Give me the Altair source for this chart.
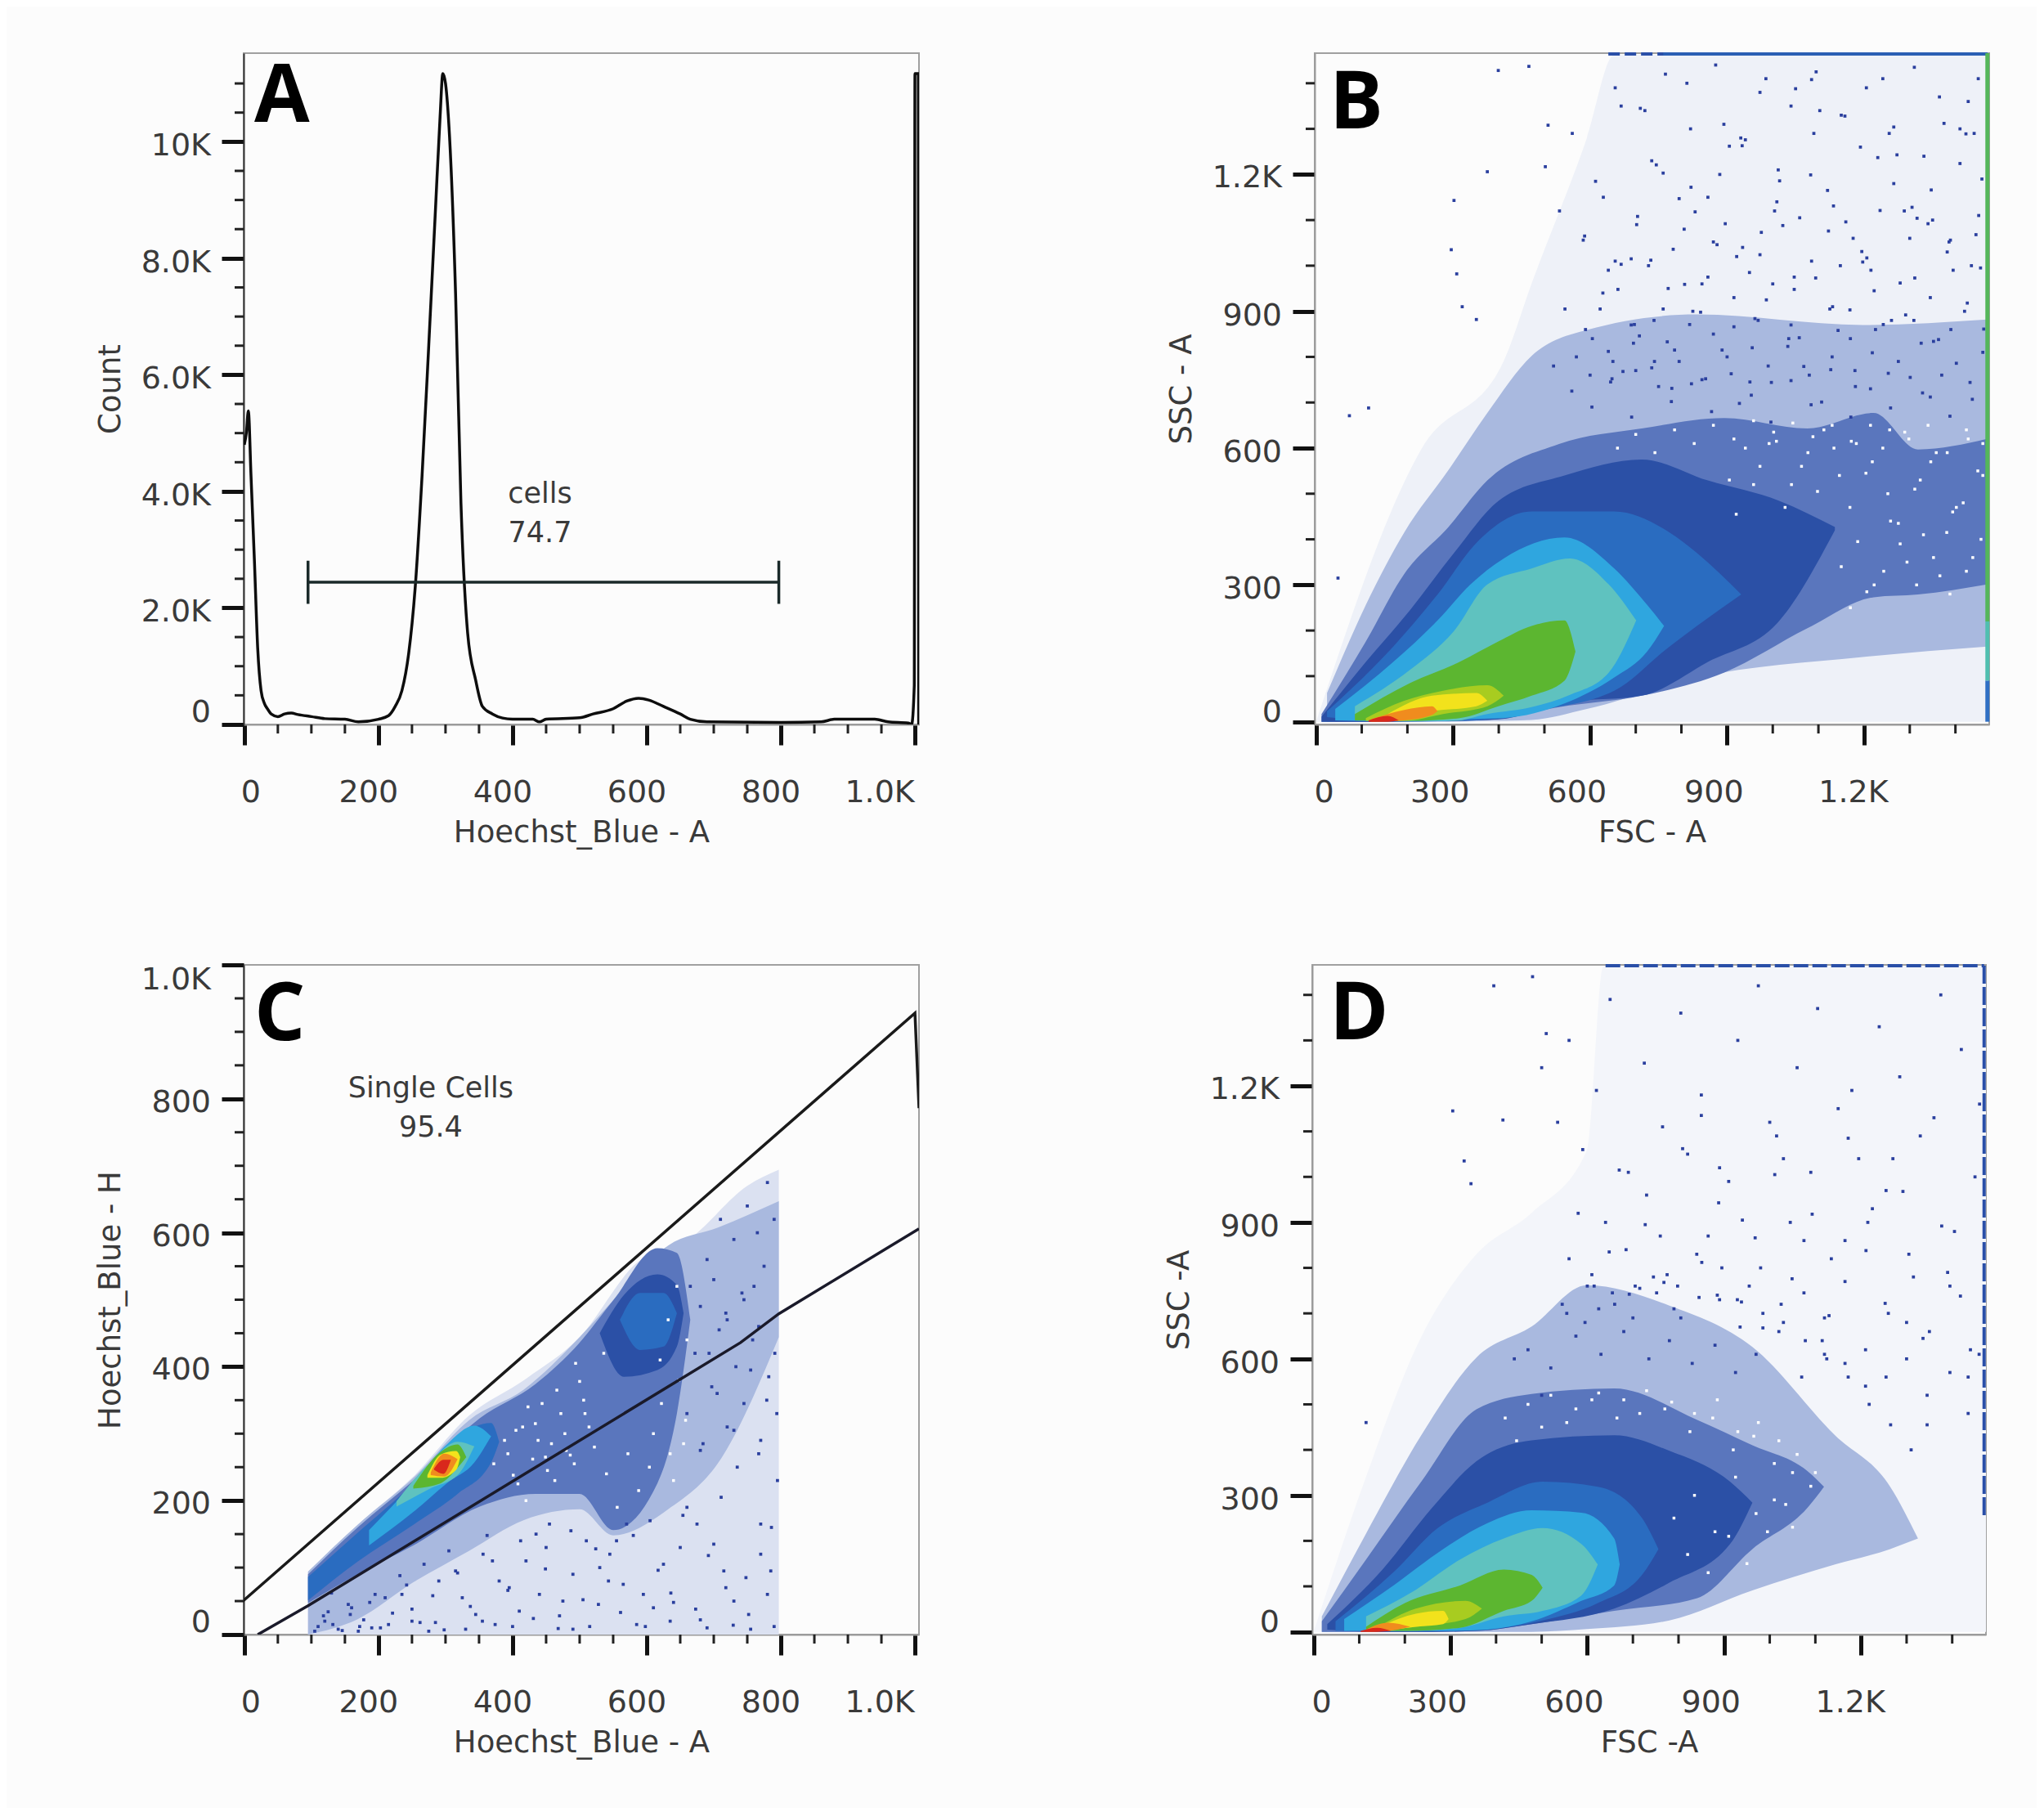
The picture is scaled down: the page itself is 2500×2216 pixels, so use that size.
import altair as alt
import pandas as pd

FONT = "DejaVu Sans"
INK = "#3a3a3a"
PAGE = "#fcfcfc"
DOT = "#2a3f9e"

# ---------- Panel A histogram ----------
HIST_X = [0,3,6,10,15,20,25,30,35,40,50,60,70,80,100,120,150,170,200,215,225,235,245,255,265,275,285,292,296,300,306,315,323,333,345,355,370,385,400,430,440,450,500,520,550,570,588,603,625,650,665,690,800,860,880,940,960,990,995,999,1000,1005,1005.5]
HIST_Y = [4800,5000,5380,4260,2830,1300,580,360,260,180,135,180,195,170,135,100,90,45,90,150,310,580,1210,2380,4260,6500,8830,10450,11170,11000,10090,7400,3810,1570,760,310,180,110,90,90,45,90,115,180,270,400,450,420,310,180,90,45,35,45,90,90,45,25,0,670,11170,11170,0]
GATE_X = [95, 797]
GATE_Y = 2440
GATE_CAP = [2070, 2810]

# ---------- Panel C gate lines ----------
C_UPPER_X = [-2, 1000, 1006]
C_UPPER_Y = [50, 928, 786]
C_LOWER_X = [20, 95, 740, 797, 1006]
C_LOWER_Y = [0, 43, 436, 479, 606]

# ---------- Density levels, outermost first: [level, x, upper, lower] ----------
LEVEL_NAMES = ["pale", "thin", "mid", "solid", "blue", "cyan", "teal", "green", "lime", "yellow", "orange", "red"]
LEVEL_COLORS = ["#eef1f8", "#a9b9df", "#5a76bd", "#2b50a6", "#2a6cc0", "#2fa6df", "#5fc2bf", "#5cb630", "#a8cc20", "#f2e21c", "#f08c1e", "#d9281c"]

B_BANDS = [
 ("pale",[0,230,411,472,593,653,1469],[0,597,791,961,1280,1462,1462],[0,0,0,0,0,0,0]),
 ("thin",[24,109,193,290,375,472,593,834,1197,1469],[63,256,415,552,677,802,859,893,870,882],[0,0,0,0,2,4,28,97,142,165]),
 ("mid",[12,109,193,290,375,532,713,894,1076,1221,1318,1469],[17,176,324,427,529,609,643,666,643,677,597,620],[0,0,1,2,4,32,57,108,205,273,279,301]),
 ("solid",[12,109,206,302,399,544,713,858,1015,1136],[11,131,245,370,484,540,575,529,484,427],[0,0,1,2,5,42,57,131,222,420]),
 ("blue",[24,169,266,351,472,653,774,834,931],[23,165,279,392,461,461,415,370,279],[10,0,1,3,23,68,165,210,279]),
 ("cyan",[42,169,266,338,411,544,653,725,762],[28,131,222,301,358,404,336,256,210],[3,1,1,6,8,40,97,154,210]),
 ("teal",[85,206,302,375,472,556,641,701],[34,114,199,301,336,358,301,222],[3,2,2,17,32,59,108,222]),
 ("green",[85,206,314,399,472,544,568],[17,85,131,176,210,222,154],[3,2,8,34,57,90,154]),
 ("lime",[109,193,278,375,411],[8,46,68,80,57],[2,2,17,34,57]),
 ("yellow",[157,254,351,375],[17,57,63,46],[2,23,34,46]),
 ("orange",[121,193,254,266],[6,26,34,23],[0,3,15,23]),
 ("red",[115,157,181],[3,13,3],[0,0,3]),
]
C_BANDS = [
 ("pale",[95,169,250,335,420,500,583,665,750,797],[94,164,234,327,382,444,553,592,670,694],[0,0,0,0,0,0,0,0,0,0]),
 ("thin",[95,169,252,335,417,500,550,632,707,797],[94,164,234,320,366,444,499,581,608,647],[0,23,78,125,171,187,148,187,257,444]),
 ("mid",[95,169,252,351,434,500,550,616,645,665],[90,160,230,323,374,436,499,577,570,470],[47,90,133,191,210,210,156,226,330,470]),
 ("blue",[95,169,252,318,368,380],[86,152,226,296,316,288],[51,109,164,210,257,288]),
 ("solid",[530,566,616,645,655],[450,507,538,522,480],[450,385,395,430,480]),
 ("blue",[560,590,625,645],[470,510,510,480],[470,425,430,480]),
 ("cyan",[186,252,302,343,368],[156,226,284,312,296],[133,183,226,257,296]),
 ("teal",[227,277,318,343],[199,257,288,281],[191,218,238,281]),
 ("green",[252,293,318,331],[222,273,284,265],[218,226,249,265]),
 ("yellow",[273,293,316,322],[238,269,274,265],[234,234,246,265]),
 ("orange",[278,298,318],[242,270,262],[238,236,262]),
 ("red",[283,297,308],[248,261,261],[246,240,261]),
]
D_BANDS = [
 ("pale",[0,115,236,357,478,599,635,1474],[0,341,648,830,921,1058,1462,1462],[0,0,0,0,0,0,0,0]),
 ("thin",[18,115,236,357,478,599,780,962,1143,1264,1325],[34,216,432,603,671,762,717,626,432,319,205],[0,0,0,0,0,6,25,91,148,182,205]),
 ("mid",[18,115,236,357,478,659,841,962,1083,1119],[23,159,330,489,523,535,466,410,353,319],[0,0,0,2,17,46,74,182,273,319]),
 ("solid",[30,151,260,357,478,659,780,913,962],[17,137,273,375,421,432,398,330,284],[5,0,0,2,17,51,108,193,284]),
 ("blue",[48,175,272,381,502,623,720,756],[23,131,228,284,330,319,250,182],[2,2,2,6,25,63,125,182]),
 ("cyan",[67,175,284,381,478,587,659,671],[28,102,182,239,267,262,205,148],[2,2,2,5,23,68,102,148]),
 ("teal",[115,212,321,417,502,587,623],[34,85,159,205,228,193,148],[2,2,9,34,46,80,148]),
 ("green",[115,200,321,417,478,502],[11,63,102,137,125,97],[2,2,9,46,68,97]),
 ("lime",[139,224,333,369],[9,51,68,51],[2,11,28,51]),
 ("yellow",[151,224,284,296],[14,40,46,28],[2,11,17,28]),
 ("orange",[115,163,212],[5,20,11],[0,2,11]),
 ("red",[103,139,170],[2,9,2],[0,0,2]),
]

# ---------- Scattered single events read from the sparse regions ----------
B_DOT_X = [73,115,48,302,375,296,308,320,351,399,466,502,508,533,561,585,612,640,668,702,735,771,812,858,893,934,972,1012,1059,1103,1148,1192,1241,1288,1331,1382,1428,1458,
 545,590,628,655,690,728,760,806,845,884,921,968,1004,1047,1090,1131,1176,1222,1265,1309,1350,1395,1441,
 520,570,605,650,695,740,785,825,870,915,955,1000,1040,1085,1125,1170,1215,1260,1300,1345,1390,1435,
 600,645,700,750,795,845,900,950,990,1035,1080,1130,1180,1225,1275,1325,1370,1420,1460,
 655,710,765,820,875,930,985,1040,1095,1150,1205,1255,1310,1365,1410,1450,
 640,672,708,741,779,818,853,889,927,961,997,1033,1068,1107,1143,1181,1218,1253,1291,1328,1363,1402,1437,1462,
 622,661,697,733,769,807,842,878,915,949,986,1022,1058,1094,1133,1169,1206,1242,1279,1316,1352,1389,1426,1455,
 588,629,668,704,745,782,821,858,896,933,972,1009,1047,1083,1122,1158,1197,1235,1272,1311,1347,1386,1423,1451,
 560,604,648,691,735,778,822,866,909,953,996,1040,1084,1127,1171,1214,1258,1301,1345,1388,1432,
 690,760,830,905,975,1050,1120,1195,1265,1340,1410,720,795,870,940,1015,1085,1160,1230,1305,1375,1445]
B_DOT_Y = [671,688,315,1143,1206,1035,982,910,882,1428,1437,1217,1308,1120,1290,1056,1185,990,1350,1090,1230,950,1400,1150,1310,1040,1380,1210,1105,1340,1000,1260,1410,1120,1240,1030,1360,1190,
 905,860,940,1010,870,1000,905,1080,960,1200,1020,880,1120,975,1290,910,1060,945,1180,880,1100,990,1290,
 780,800,840,790,830,880,815,900,850,930,820,960,870,1010,905,840,990,880,1060,930,860,1000,
 760,745,770,735,790,750,800,745,780,840,760,800,770,860,790,830,760,900,810,
 1390,1345,1420,1300,1440,1280,1410,1350,1425,1330,1390,1290,1435,1370,1300,1410,
 812,768,846,790,731,871,752,815,698,884,744,823,779,701,858,735,809,764,892,721,838,786,707,861,
 905,948,871,1012,833,959,898,1046,866,985,925,1088,842,973,1131,903,1017,871,962,1104,834,1056,918,995,
 1065,1150,1003,1108,1221,1036,1172,975,1092,1263,1024,1140,948,1199,1076,1328,1008,1121,1243,973,1166,1052,1289,1110,
 725,690,752,668,776,702,741,680,763,716,657,748,695,772,668,730,688,755,712,670,744,
 1015,1203,1118,1262,1073,1388,1165,1031,1304,1092,1224,1340,1147,1052,1276,1186,1408,1096,1237,1128,1312,1068]

B_GAP_X = [905,940,972,1008,1041,1077,1112,1146,1183,1218,1252,1289,1323,1358,1394,1428,1460,920,958,992,1027,1063,1098,1134,1169,1204,1241,1275,1311,1346,1381,1417,1449,1150,1186,1222,1258,1294,1330,1366,1402,1438,1170,1206,1243,1279,1315,1352,1388,1424,1456,660,700,742,785,828,870,915,958,1002,1044,1088,1130,1172,1214,1256,1298,1340,1382,1424,1460]
B_GAP_Y = [530,600,560,615,520,590,640,540,610,570,500,635,530,590,460,620,540,455,520,610,470,560,505,600,470,545,600,435,510,570,415,480,550,340,395,300,440,350,410,320,470,360,250,285,330,390,300,360,280,330,400,600,630,590,640,610,650,620,660,635,655,625,650,615,650,640,620,650,590,640,610]

C_DOT_X = [110,125,140,160,178,195,215,232,250,268,285,305,325,345,362,380,400,420,440,455,470,490,510,528,545,565,585,605,625,640,660,680,700,718,735,752,770,785,795,
 130,170,210,250,290,330,370,410,450,490,530,570,610,650,690,730,770,790,
 120,155,190,235,275,315,355,395,435,475,515,555,595,635,675,715,755,780,
 690,710,730,750,765,780,790,775,760,745,720,700,680,
 105,118,132,146,158,172,187,203,221,242,262,281,298,318,337,356,374,393,412,431,449,468,487,505,524,543,561,580,598,617,636,654,673,692,711,729,748,767,786,
 660,672,684,697,708,720,733,745,758,770,782,794,665,680,693,705,718,730,742,755,767,779,791]
C_DOT_Y = [12,34,8,40,22,60,15,88,38,105,18,125,55,30,148,80,12,110,60,165,28,90,140,45,120,75,15,170,105,48,190,22,135,70,250,30,165,95,230,
 62,5,55,20,80,8,110,35,130,8,100,165,40,130,10,50,120,12,
 20,45,10,60,5,95,20,70,150,50,12,140,60,20,165,95,8,60,
 560,620,590,640,600,675,620,550,520,500,470,530,490,
 5,28,15,6,30,12,48,10,32,74,18,58,7,92,42,120,15,66,140,24,98,9,155,52,128,80,33,148,12,96,62,178,38,118,205,14,85,270,160,
 330,420,285,370,455,310,400,345,440,290,385,330,520,275,420,360,480,305,510,395,460,350,420]

C_GAP_X = [372,388,401,415,430,444,458,472,486,500,514,393,408,423,438,452,466,480,494,508,522,536,405,420,434,449,463,478,492,506,610,622,635,648,658,640,655,620,632,645,660,540,556,572,588,604]
C_GAP_Y = [255,290,238,310,262,345,285,330,268,378,310,270,225,340,290,245,365,275,405,330,280,420,305,200,315,265,230,300,255,350,300,345,270,380,320,230,285,410,470,520,440,240,190,270,215,250]

D_DOT_X = [115,305,330,345,395,415,480,500,510,535,560,590,620,650,690,725,765,805,850,890,930,975,1015,1060,1105,1150,1195,1240,1285,1330,1375,1420,1460,
 560,600,640,685,730,775,820,865,910,955,1000,1045,1090,1135,1180,1225,1270,1315,1360,1405,1450,
 545,595,655,700,745,790,840,885,935,980,1025,1075,1120,1165,1215,1260,1305,1350,1395,1440,
 470,520,575,630,680,735,780,830,880,925,970,1020,1070,1115,1165,1210,1255,1300,1345,1395,1435,
 610,648,692,727,768,809,851,888,929,968,1011,1049,1093,1130,1172,1211,1253,1292,1336,1377,1418,1459,
 580,625,670,715,760,805,850,895,940,985,1030,1075,1120,1165,1210,1255,1300,1345,1390,1435,
 440,500,555,615,660,705,752,798,845,890,938,985,1030,1078,1125,1172,1218,1265,1310]
D_DOT_Y = [460,1145,1035,985,1420,1125,1440,1240,1315,1120,1300,1060,1190,1390,1010,1250,1110,1360,1180,1020,1300,1420,1090,1240,1370,1150,1040,1330,1220,1090,1400,1280,1160,
 820,760,900,840,960,785,1050,870,990,760,1120,900,1010,820,1190,930,1040,780,1130,880,1000,
 720,680,745,690,780,710,830,740,670,800,720,860,690,770,900,700,830,660,760,620,
 620,580,650,610,660,600,640,590,630,570,610,660,560,640,590,620,560,600,520,570,480,
 785,835,742,895,768,1062,812,943,730,866,1005,776,918,695,1085,838,722,968,645,892,738,610,
 920,710,1015,755,870,690,1135,800,905,668,1040,745,610,860,540,970,680,455,790,560,
 600,520,700,760,720,760,745,760,735,730,725,700,680,640,600,560,500,455,400]

D_GAP_X = [420,470,520,575,625,680,730,785,835,885,930,975,1020,1060,1100,445,500,555,610,665,715,770,825,875,920,965,1010,1050,1090,790,835,880,925,970,1010,1050,820,865,910,950,995,1035]
D_GAP_Y = [470,500,520,490,525,510,530,505,480,510,440,460,420,390,350,420,450,460,510,470,480,490,440,470,400,430,370,350,320,250,300,220,340,260,290,230,170,130,210,150,220,280]

# ---------- Axes ----------
HOECHST_TICKS = [0,200,400,600,800,1000]
HOECHST_LABELS = ["0","200","400","600","800","1.0K"]
HOECHST_MINOR = [50,100,150,250,300,350,450,500,550,650,700,750,850,900,950]
COUNT_TICKS = [0,2000,4000,6000,8000,10000]
COUNT_LABELS = ["0","2.0K","4.0K","6.0K","8.0K","10K"]
COUNT_MINOR = [500,1000,1500,2500,3000,3500,4500,5000,5500,6500,7000,7500,8500,9000,9500,10500,11000]
SCATTER_TICKS = [0,300,600,900,1200]
SCATTER_LABELS = ["0","300","600","900","1.2K"]
SCATTER_MINOR = [100,200,400,500,700,800,1000,1100,1300,1400]


def panel(xd, yd, w, h, xtitle, ytitle, xt, xl, xm, yt, yl, ym, xdx, ydy, letter, lx, ly, dark, middle):
    x_axis = alt.Axis(values=xt, labels=False, tickSize=25, tickWidth=5, tickColor="#111111",
                      grid=False, domainColor="#9a9a9a", domainWidth=2, titleFont=FONT, titleFontSize=37,
                      titleFontWeight="normal", titleColor=INK, titlePadding=87)
    y_axis = alt.Axis(values=yt, labels=False, tickSize=27, tickWidth=5, tickColor="#111111",
                      grid=False, domainColor="#333333" if dark else "#9a9a9a", domainWidth=2, titleFont=FONT,
                      titleFontSize=37, titleFontWeight="normal", titleColor=INK, titlePadding=114)
    xs = alt.Scale(domain=xd, nice=False, zero=False)
    ys = alt.Scale(domain=yd, nice=False, zero=False)
    X = lambda: alt.X("x:Q", scale=xs, title=xtitle, axis=x_axis)
    Y = lambda: alt.Y("y:Q", scale=ys, title=ytitle, axis=y_axis)
    layers = list(middle(X, Y))
    # minor ticks
    layers.append(alt.Chart(pd.DataFrame({"x": xm})).mark_rule(color="#222222", strokeWidth=3).encode(
        x=X(), y=alt.value(h), y2=alt.value(h + 11)))
    layers.append(alt.Chart(pd.DataFrame({"y": ym})).mark_rule(color="#222222", strokeWidth=3).encode(
        y=Y(), x=alt.value(-11), x2=alt.value(0)))
    # tick labels with the offsets used in the source software
    for v, t, dx in zip(xt, xl, xdx):
        layers.append(alt.Chart(pd.DataFrame({"x": [v], "t": [t]})).mark_text(
            font=FONT, fontSize=38, color=INK, dx=dx, align="center", baseline="middle").encode(
            x=X(), y=alt.value(h + 84), text="t:N"))
    for v, t, dy in zip(yt, yl, ydy):
        layers.append(alt.Chart(pd.DataFrame({"y": [v], "t": [t]})).mark_text(
            font=FONT, fontSize=38, color=INK, dy=dy, align="right", baseline="middle").encode(
            y=Y(), x=alt.value(-40), text="t:N"))
    layers.append(alt.Chart(pd.DataFrame({"t": [letter]})).mark_text(
        font="Open Sans", fontSize=98, fontWeight="bold", color="#000000", align="left", baseline="alphabetic").encode(
        x=alt.value(lx), y=alt.value(ly), text="t:N"))
    return alt.layer(*layers).properties(width=w, height=h)


def bands(spec, X, Y, pale=None):
    out = []
    for name, xs, up, low in spec:
        col = LEVEL_COLORS[LEVEL_NAMES.index(name)]
        if name == "pale" and pale:
            col = pale
        out.append(alt.Chart(pd.DataFrame({"x": xs, "y": up, "low": low})).mark_area(
            interpolate="monotone", color=col, opacity=1).encode(x=X(), y=Y(), y2="low:Q"))
    return out


def dots(xs, ys, X, Y, col=DOT, size=14):
    return [alt.Chart(pd.DataFrame({"x": xs, "y": ys})).mark_square(size=size, color=col, opacity=1).encode(x=X(), y=Y())]


def note(x, y, t, X, Y):
    return alt.Chart(pd.DataFrame({"x": [x], "y": [y], "t": [t]})).mark_text(
        font=FONT, fontSize=35, color=INK).encode(x=X(), y=Y(), text="t:N")


def middle_a(X, Y):
    return [
        alt.Chart(pd.DataFrame({"x": HIST_X, "y": HIST_Y})).mark_line(color="#0d0d0d", strokeWidth=3.5, clip=True, interpolate="monotone").encode(
            x=X(), y=Y()),
        alt.Chart(pd.DataFrame({"x": GATE_X, "y": [GATE_Y] * 2})).mark_line(color="#1a2a2a", strokeWidth=3.5).encode(x=X(), y=Y()),
        alt.Chart(pd.DataFrame({"x": GATE_X, "y": [GATE_CAP[0]] * 2, "y2": [GATE_CAP[1]] * 2})).mark_rule(color="#1a2a2a", strokeWidth=3.5).encode(
            x=X(), y=Y(), y2="y2:Q"),
        note(441, 3960, "cells", X, Y),
        note(441, 3290, "74.7", X, Y),
    ]


def stripe(xs, ys, x2s, y2s, col, w, dash=None, X=None, Y=None):
    kw = {"strokeDash": dash} if dash else {}
    return alt.Chart(pd.DataFrame({"x": xs, "y": ys, "x2": x2s, "y2": y2s})).mark_rule(color=col, strokeWidth=w, **kw).encode(
        x=X(), y=Y(), x2="x2:Q", y2="y2:Q")


def middle_b(X, Y):
    return bands(B_BANDS, X, Y) + dots(B_GAP_X, B_GAP_Y, X, Y, "#ffffff", 12) + dots(B_DOT_X, B_DOT_Y, X, Y) + [
        stripe([640], [1464], [1470], [1464], "#2a4fa8", 4, [14, 6], X, Y),
        stripe([760], [1464], [1470], [1464], "#2a5fb4", 4, None, X, Y),
        stripe([1470], [1466], [1470], [220], "#54b65a", 5, None, X, Y),
        stripe([1470], [220], [1470], [90], "#4fbfb0", 5, None, X, Y),
        stripe([1470], [90], [1470], [0], "#2f6fc4", 5, None, X, Y),
    ]


def middle_c(X, Y):
    return bands(C_BANDS, X, Y, pale="#dbe1f1") + dots(C_GAP_X, C_GAP_Y, X, Y, "#ffffff", 12) + dots(C_DOT_X, C_DOT_Y, X, Y) + [
        alt.Chart(pd.DataFrame({"x": C_UPPER_X, "y": C_UPPER_Y})).mark_line(color="#1a1a1a", strokeWidth=3.5, clip=True).encode(x=X(), y=Y()),
        alt.Chart(pd.DataFrame({"x": C_LOWER_X, "y": C_LOWER_Y})).mark_line(color="#1a1a2a", strokeWidth=3.5, clip=True).encode(x=X(), y=Y()),
        note(278, 816, "Single Cells", X, Y),
        note(278, 757, "95.4", X, Y),
    ]


def middle_d(X, Y):
    return bands(D_BANDS, X, Y, pale="#f3f5fa") + dots(D_GAP_X, D_GAP_Y, X, Y, "#ffffff", 12) + dots(D_DOT_X, D_DOT_Y, X, Y) + [
        stripe([640], [1464], [1470], [1464], "#2a4fa8", 4, [18, 5], X, Y),
        stripe([1470], [1464], [1470], [250], "#2a4fa8", 4, [22, 4], X, Y),
    ]


A = panel([-1, 1006], [0, 11520], 826, 821, "Hoechst_Blue - A", "Count",
          HOECHST_TICKS, HOECHST_LABELS, HOECHST_MINOR, COUNT_TICKS, COUNT_LABELS, COUNT_MINOR,
          [8, -12, -12, -12, -12, -43], [-14, 6, 6, 6, 6, 6], "A", 13, 84, True, middle_a)
B = panel([-3, 1474], [-6, 1466], 825, 821, "FSC - A", "SSC - A",
          SCATTER_TICKS, SCATTER_LABELS, SCATTER_MINOR, SCATTER_TICKS, SCATTER_LABELS, SCATTER_MINOR,
          [10, -16, -16, -16, -13], [-11, 6, 6, 6, 5], "B", 18, 92, False, middle_b)
C = panel([-1, 1006], [0, 1000], 826, 819, "Hoechst_Blue - A", "Hoechst_Blue - H",
          HOECHST_TICKS, HOECHST_LABELS, HOECHST_MINOR, [0, 200, 400, 600, 800, 1000], ["0", "200", "400", "600", "800", "1.0K"],
          [50, 100, 150, 250, 300, 350, 450, 500, 550, 650, 700, 750, 850, 900, 950],
          [8, -12, -12, -12, -12, -43], [-14, 5, 5, 5, 5, 19], "C", 13, 92, True, middle_c)
D = panel([-3, 1474], [-6, 1466], 824, 819, "FSC -A", "SSC -A",
          SCATTER_TICKS, SCATTER_LABELS, SCATTER_MINOR, SCATTER_TICKS, SCATTER_LABELS, SCATTER_MINOR,
          [10, -16, -16, -16, -13], [-11, 6, 6, 6, 5], "D", 21, 91, False, middle_d)

chart = alt.vconcat(
    alt.hconcat(A, B, spacing=300),
    alt.hconcat(C, D, spacing=297),
    spacing=138,
).properties(padding={"left": 107, "top": 53, "right": 56, "bottom": 60}, background=PAGE
).configure_view(stroke="#a0a0a0", strokeWidth=2)

chart.save("out.html", embed_options={"renderer": "svg", "actions": False})
